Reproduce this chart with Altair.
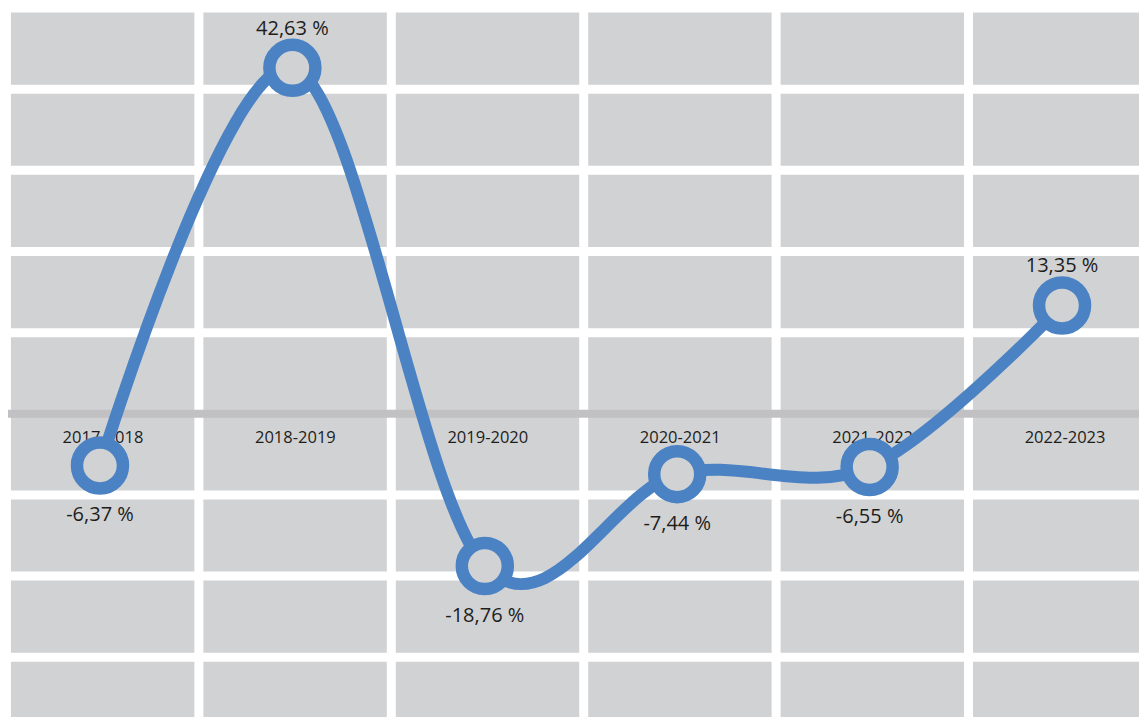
import altair as alt
import pandas as pd

# ---- data ----
periods = ["2017-2018", "2018-2019", "2019-2020", "2020-2021", "2021-2022", "2022-2023"]
values = [-6.37, 42.63, -18.76, -7.44, -6.55, 13.35]
grid_values = [50, 40, 30, 20, 10, -10, -20, -30]

labels = [f"{v:.2f}".replace(".", ",") + " %" for v in values]
df = pd.DataFrame({
    "period": periods,
    "idx": list(range(len(periods))),
    "value": values,
    "label": labels,
    "base": [0] * len(periods),
})
# category band edges (halfway between categories)
edge_df = pd.DataFrame({"e": [i - 0.486 for i in range(len(periods))]})
grid_df = pd.DataFrame({"g": grid_values})
zero_df = pd.DataFrame({"z": [0]})

BLUE = "#4a82c4"
GRAY = "#d1d2d4"
ZERO = "#c1c1c3"
TEXT = "#1d1d1b"
FONT = "Open Sans"

x_scale = alt.Scale(domain=[-0.478, 5.4], nice=False, zero=False)
y_scale = alt.Scale(domain=[-37.36, 50], nice=False, zero=False)

X = alt.X("idx:Q", scale=x_scale, axis=None)
Y = alt.Y("value:Q", scale=y_scale, axis=None)

hgrid = alt.Chart(grid_df).mark_rule(color="white", strokeWidth=9).encode(
    y=alt.Y("g:Q", scale=y_scale, axis=None)
)

vgrid = alt.Chart(edge_df).mark_rule(color="white", strokeWidth=9).encode(
    x=alt.X("e:Q", scale=x_scale, axis=None)
)

zero = alt.Chart(zero_df).mark_rule(color=ZERO, strokeWidth=8).encode(
    y=alt.Y("z:Q", scale=y_scale, axis=None)
)

cat_labels = alt.Chart(df).mark_text(
    font=FONT, fontSize=16.5, color=TEXT, baseline="middle", align="center", dy=24, dx=3
).encode(x=X, y=alt.Y("base:Q", scale=y_scale, axis=None), text="period:N")

line = alt.Chart(df).mark_line(
    interpolate="cardinal", strokeWidth=12, color=BLUE
).encode(x=X, y=Y)

points = alt.Chart(df).mark_point(
    shape="circle", size=2116, filled=True, fill=GRAY, stroke=BLUE,
    strokeWidth=12.5, opacity=1
).encode(x=X, y=Y)

pos_labels = alt.Chart(df).transform_filter("datum.value >= 0").mark_text(
    font=FONT, fontSize=20, color=TEXT, baseline="middle", align="center", dy=-39
).encode(x=X, y=Y, text="label:N")

neg_labels = alt.Chart(df).transform_filter("datum.value < 0").mark_text(
    font=FONT, fontSize=20, color=TEXT, baseline="middle", align="center", dy=50
).encode(x=X, y=Y, text="label:N")

chart = alt.layer(
    hgrid, vgrid, zero, cat_labels, line, points, pos_labels, neg_labels
).properties(
    width=1131, height=709, padding=0,
    autosize=alt.AutoSizeParams(type="none"),
    background="white",
).configure_view(stroke=None, fill=GRAY)

chart.save("out.html", embed_options={"renderer": "svg", "actions": False})
